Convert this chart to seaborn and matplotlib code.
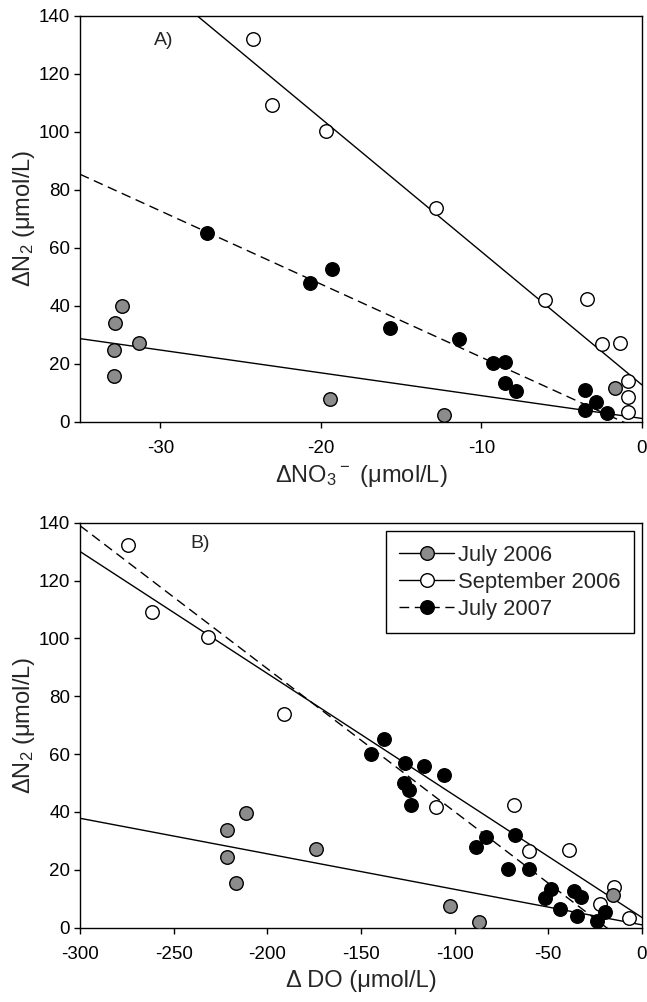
import numpy as np
import pandas as pd
import seaborn as sns
import matplotlib.pyplot as plt
from matplotlib.lines import Line2D

# =========================
# DATA
# =========================
# Panel A: dNO3 (x) vs dN2 (y)
no3_jul06 = [-32.9, -32.9, -32.8, -32.4, -31.3, -19.4, -12.3, -1.7]
n2a_jul06 = [15.7, 24.7, 33.9, 39.9, 27.2, 7.8, 2.3, 11.5]

no3_sep06 = [-24.2, -23.05, -19.7, -12.85, -6.04, -3.44, -2.49, -1.39, -0.85, -0.85, -0.85]
n2a_sep06 = [131.9, 109.2, 100.3, 73.8, 42.0, 42.4, 26.8, 27.1, 14.1, 8.6, 3.3]

no3_jul07 = [-27.1, -20.7, -19.3, -15.7, -11.4, -9.27, -8.55, -8.55, -7.83, -3.57, -3.57, -2.85, -2.16]
n2a_jul07 = [65.2, 47.7, 52.6, 32.2, 28.4, 20.3, 20.6, 13.4, 10.7, 10.9, 4.0, 6.7, 2.9]

# Panel B: dDO (x) vs dN2 (y)
do_jul06 = [-221.7, -221.7, -211.6, -216.6, -174.0, -102.3, -86.9, -15.6]
n2b_jul06 = [33.8, 24.5, 39.5, 15.6, 27.1, 7.6, 2.0, 11.2]

do_sep06 = [-274.3, -261.3, -231.8, -191.1, -109.7, -68.2, -60.3, -39.2, -15.0, -22.2, -6.8]
n2b_sep06 = [132.1, 109.1, 100.4, 73.7, 41.7, 42.3, 26.5, 27.0, 14.1, 8.3, 3.3]

do_jul07 = [-137.5, -144.9, -126.5, -116.3, -105.8, -127.1, -124.3, -123.4, -88.6, -83.1,
            -68.0, -71.7, -60.3, -51.7, -48.4, -44.0, -36.3, -32.3, -34.5, -24.2, -19.6]
n2b_jul07 = [65.2, 60.0, 57.0, 56.0, 52.7, 50.1, 47.6, 42.4, 28.0, 31.5,
             32.1, 20.4, 20.4, 10.4, 13.3, 6.5, 12.6, 10.7, 4.0, 2.4, 5.5]

labels = ['July 2006', 'September 2006', 'July 2007']
fills = {'July 2006': '#8c8c8c', 'September 2006': 'white', 'July 2007': 'black'}
styles = {'July 2006': '-', 'September 2006': '-', 'July 2007': (0, (7, 4))}

df_a = pd.concat([
    pd.DataFrame({'x': no3_jul06, 'dN2': n2a_jul06, 'campaign': 'July 2006'}),
    pd.DataFrame({'x': no3_sep06, 'dN2': n2a_sep06, 'campaign': 'September 2006'}),
    pd.DataFrame({'x': no3_jul07, 'dN2': n2a_jul07, 'campaign': 'July 2007'}),
])
df_b = pd.concat([
    pd.DataFrame({'x': do_jul06, 'dN2': n2b_jul06, 'campaign': 'July 2006'}),
    pd.DataFrame({'x': do_sep06, 'dN2': n2b_sep06, 'campaign': 'September 2006'}),
    pd.DataFrame({'x': do_jul07, 'dN2': n2b_jul07, 'campaign': 'July 2007'}),
])

# =========================
# STYLE
# =========================
sns.set_style('ticks')
plt.rcParams['font.family'] = ['Liberation Sans', 'DejaVu Sans']
plt.rcParams['mathtext.default'] = 'regular'
plt.rcParams['axes.unicode_minus'] = False

fig = plt.figure(figsize=(6.47, 10.02), dpi=100)
axA = fig.add_axes([0.1236, 0.5791, 0.8686, 0.4052])
axB = fig.add_axes([0.1236, 0.0742, 0.8686, 0.4042])


def draw_panel(ax, df, xlim, xticks):
    ax.set_xlim(xlim)
    ax.set_ylim(0, 140)
    # regression lines first, spanning the full x range
    for lab in labels:
        sub = df[df['campaign'] == lab]
        sns.regplot(data=sub, x='x', y='dN2', ax=ax, scatter=False, ci=None,
                    truncate=False, color='black',
                    line_kws=dict(lw=1.0, linestyle=styles[lab]))
    for lab in ['September 2006', 'July 2007', 'July 2006']:
        sub = df[df['campaign'] == lab]
        sns.scatterplot(data=sub, x='x', y='dN2', ax=ax, color=fills[lab],
                        edgecolor='black', linewidth=1.0, s=95, zorder=3,
                        legend=False)
    ax.set_xlim(xlim)
    ax.set_ylim(0, 140)
    ax.set_xticks(xticks)
    ax.set_yticks(np.arange(0, 141, 20))
    for sp in ax.spines.values():
        sp.set_visible(True)
        sp.set_linewidth(1.0)
        sp.set_color('black')
    ax.tick_params(direction='out', length=4.5, width=1.0, labelsize=13.5,
                   colors='black', top=False, right=False)
    ax.tick_params(axis='x', pad=8.7)
    ax.tick_params(axis='y', pad=2.5)
    ax.set_ylabel('ΔN$_2$ (μmol/L)', fontsize=17, labelpad=1)


draw_panel(axA, df_a, (-35, 0), [-30, -20, -10, 0])
axA.set_xlabel('ΔNO$_3$$^-$ (μmol/L)', fontsize=17, labelpad=4)
axA.text(0.132, 0.938, 'A)', transform=axA.transAxes, fontsize=14, va='center', ha='left')

draw_panel(axB, df_b, (-300, 0), np.arange(-300, 1, 50))
axB.set_xlabel('Δ DO (μmol/L)', fontsize=17, labelpad=5)
axB.text(0.197, 0.948, 'B)', transform=axB.transAxes, fontsize=14, va='center', ha='left')

handles = [
    Line2D([], [], color='black', lw=1.0, linestyle=styles[lab], marker='o',
           markersize=9.8, markerfacecolor=fills[lab], markeredgecolor='black',
           markeredgewidth=1.0)
    for lab in labels
]
leg = axB.legend(handles, labels, loc='upper right', fontsize=15.8, frameon=True,
                 fancybox=False, edgecolor='black', framealpha=1, borderpad=0.62,
                 labelspacing=0.28, handlelength=2.5, handletextpad=0.15,
                 borderaxespad=0.38)
leg.get_frame().set_linewidth(1.0)

fig.savefig('out.png', dpi=100, facecolor='white')
